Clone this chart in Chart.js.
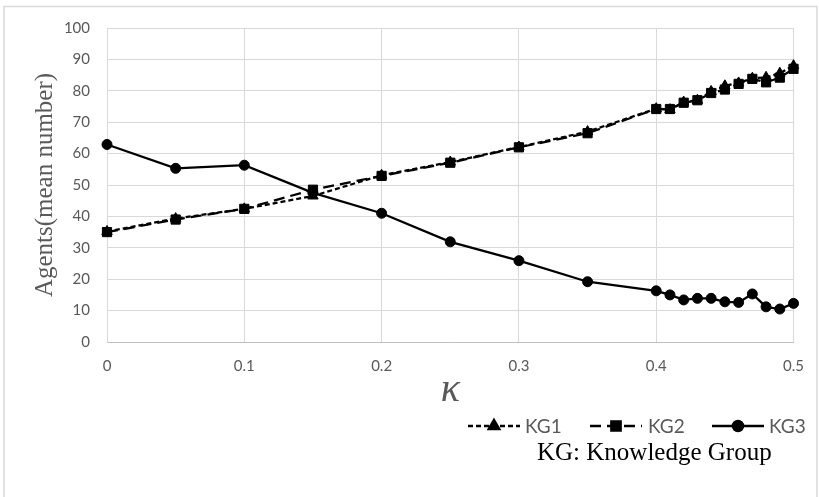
<!DOCTYPE html>
<html>
<head>
<meta charset="utf-8">
<script src="https://cdn.jsdelivr.net/npm/chart.js@4/dist/chart.umd.min.js"></script>
<style>
  html, body { margin: 0; padding: 0; background: #ffffff; }
  canvas { display: block; }
</style>
</head>
<body>
<canvas id="c" width="819" height="497"></canvas>
<script>
// ---- data ----
const kappa = [0, 0.05, 0.1, 0.15, 0.2, 0.25, 0.3, 0.35, 0.4, 0.41, 0.42, 0.43, 0.44, 0.45, 0.46, 0.47, 0.48, 0.49, 0.5];
const kg1 = [35.2, 39.3, 42.4, 46.5, 53.1, 57.3, 62.1, 67.0, 74.3, 74.0, 76.4, 77.0, 79.8, 81.6, 82.5, 84.0, 84.3, 85.6, 88.0];
const kg2 = [35.0, 39.0, 42.4, 48.5, 52.9, 57.1, 62.0, 66.5, 74.2, 74.2, 76.2, 77.0, 79.3, 80.4, 82.2, 83.8, 82.7, 84.2, 87.0];
const kg3 = [62.9, 55.3, 56.3, 47.5, 41.0, 31.9, 25.9, 19.2, 16.3, 15.0, 13.4, 13.9, 13.9, 12.8, 12.6, 15.3, 11.2, 10.5, 12.3];
const seriesNames = ['KG1', 'KG2', 'KG3'];
const xTickLabels = ['0', '0.1', '0.2', '0.3', '0.4', '0.5'];
const yTickLabels = ['0', '10', '20', '30', '40', '50', '60', '70', '80', '90', '100'];
const xTitle = 'κ';
const yTitle = 'Agents(mean number)';
const noteText = 'KG: Knowledge Group';

const toPts = arr => arr.map((v, i) => ({ x: kappa[i], y: v }));

const GRID = '#d9d9d9';
const TXT = '#595959';

const styles = [
  { dash: [5, 3], point: 'triangle', radius: 6 },
  { dash: [11, 6], point: 'rect', radius: 6.5 },
  { dash: [], point: 'circle', radius: 5 }
];

const bgPlugin = {
  id: 'bg',
  beforeDraw(chart) {
    const ctx = chart.ctx;
    ctx.save();
    ctx.fillStyle = '#ffffff';
    ctx.fillRect(0, 0, chart.width, chart.height);
    ctx.strokeStyle = GRID;
    ctx.lineWidth = 1.5;
    ctx.strokeRect(4, 6.5, 813, 500);
    ctx.restore();
  }
};

const legendPlugin = {
  id: 'customLegend',
  afterDraw(chart) {
    const ctx = chart.ctx;
    const items = [
      { x1: 468, x2: 520, tx: 525 },
      { x1: 590, x2: 642, tx: 648 },
      { x1: 712, x2: 764, tx: 769 }
    ];
    const y = 426;
    ctx.save();
    items.forEach((it, i) => {
      const st = styles[i];
      ctx.strokeStyle = '#000';
      ctx.lineWidth = 2.5;
      ctx.setLineDash(st.dash);
      ctx.beginPath();
      ctx.moveTo(it.x1, y);
      ctx.lineTo(it.x2, y);
      ctx.stroke();
      ctx.setLineDash([]);
      ctx.fillStyle = '#000';
      Chart.helpers.drawPoint(ctx, { pointStyle: st.point, radius: st.radius, rotation: 0, borderWidth: 1 }, (it.x1 + it.x2) / 2, y);
      ctx.fill();
      ctx.fillStyle = TXT;
      ctx.font = '19px Lato';
      ctx.textBaseline = 'middle';
      ctx.textAlign = 'left';
      ctx.fillText(seriesNames[i], it.tx, y + 1);
    });
    ctx.fillStyle = '#000';
    ctx.font = '25px "Liberation Serif"';
    ctx.textBaseline = 'alphabetic';
    ctx.fillText(noteText, 537, 460);
    ctx.restore();
  }
};

const datasets = [kg1, kg2, kg3].map((arr, i) => ({
  label: seriesNames[i],
  data: toPts(arr),
  borderColor: '#000',
  backgroundColor: '#000',
  borderWidth: 2.25,
  borderDash: styles[i].dash,
  pointStyle: styles[i].point,
  pointRadius: styles[i].radius,
  pointHoverRadius: styles[i].radius,
  pointBackgroundColor: '#000',
  pointBorderColor: '#000',
  pointBorderWidth: 1,
  tension: 0,
  fill: false,
  clip: false
}));

new Chart(document.getElementById('c'), {
  type: 'line',
  data: { datasets },
  options: {
    responsive: false,
    animation: false,
    events: [],
    layout: { padding: { left: 0, top: 28, right: 22, bottom: 0 } },
    plugins: {
      legend: { display: false },
      tooltip: { enabled: false },
      title: { display: false }
    },
    scales: {
      x: {
        type: 'linear',
        min: 0,
        max: 0.5,
        afterFit(scale) { scale.height = 155; },
        ticks: {
          stepSize: 0.1,
          color: TXT,
          font: { family: 'Lato', size: 15 },
          padding: 15,
          maxRotation: 0,
          callback: (v, i) => xTickLabels[i]
        },
        grid: { color: GRID, lineWidth: 1, drawTicks: false },
        border: { color: '#bfbfbf', width: 1 },
        title: {
          display: true,
          text: xTitle,
          color: TXT,
          font: { family: 'Liberation Serif', size: 40, style: 'italic' },
          padding: { top: 0, bottom: 83 }
        }
      },
      y: {
        min: 0,
        max: 100,
        afterFit(scale) { scale.width = 107; },
        ticks: {
          stepSize: 10,
          color: TXT,
          font: { family: 'Lato', size: 15 },
          padding: 17,
          callback: (v, i) => yTickLabels[i]
        },
        grid: { color: GRID, lineWidth: 1, drawTicks: false },
        border: { color: GRID, width: 1 },
        title: {
          display: true,
          text: yTitle,
          color: TXT,
          font: { family: 'Liberation Serif', size: 25 },
          padding: { top: 30, bottom: 0 }
        }
      }
    }
  },
  plugins: [bgPlugin, legendPlugin]
});
</script>
</body>
</html>
